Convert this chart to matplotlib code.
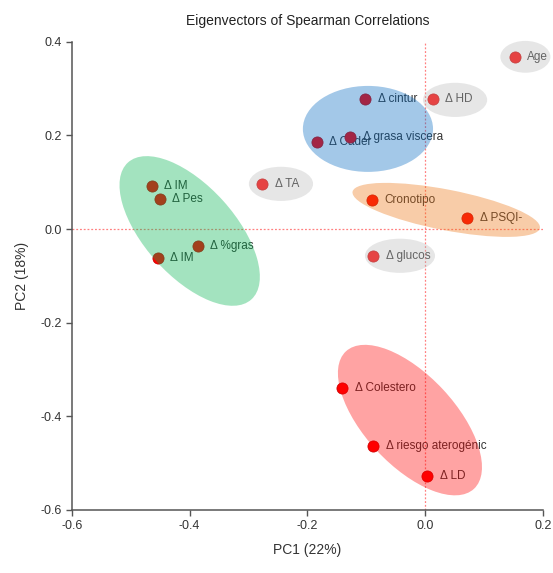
import matplotlib.pyplot as plt
from matplotlib.patches import Ellipse
from matplotlib import transforms

plt.rcParams['font.family'] = ['Liberation Sans', 'DejaVu Sans']
plt.rcParams['axes.unicode_minus'] = False

# loadings
labels = ['Age', 'Δ HD', 'Δ cintur', 'Δ grasa viscera', 'Δ Cader', 'Δ TA',
          'Cronotipo', 'Δ PSQI-', 'Δ glucos', 'Δ IM', 'Δ Pes', 'Δ %gras',
          'Δ IM', 'Δ Colestero', 'Δ riesgo aterogénic', 'Δ LD']
pc1 = [0.152, 0.013, -0.102, -0.127, -0.184, -0.277,
       -0.091, 0.071, -0.088, -0.464, -0.451, -0.386,
       -0.454, -0.141, -0.088, 0.003]
pc2 = [0.368, 0.278, 0.278, 0.197, 0.186, 0.096,
       0.062, 0.024, -0.057, 0.092, 0.065, -0.036,
       -0.062, -0.339, -0.463, -0.527]

# cluster shades: centre (data), width/height (in x units), angle, colour
groups = [
    ((0.170, 0.368), 0.085, 0.054, 0, '#bababa'),
    ((0.0506, 0.276), 0.109, 0.058, 0, '#bababa'),
    ((-0.245, 0.0966), 0.109, 0.058, 0, '#bababa'),
    ((-0.0429, -0.057), 0.119, 0.058, 0, '#bababa'),
    ((-0.0973, 0.214), 0.221, 0.146, 0, '#0067c0'),
    ((0.0356, 0.041), 0.324, 0.069, -11, '#ec720e'),
    ((-0.400, -0.004), 0.313, 0.153, -48, '#00b450'),
    ((-0.026, -0.408), 0.319, 0.153, -47, '#ff0000'),
]

fig = plt.figure(figsize=(5.53, 5.73), dpi=100)
ax = fig.add_axes([0.130, 0.110, 0.852, 0.817])
ax.set_xlim(-0.6, 0.2)
ax.set_ylim(-0.6, 0.4)

ax.axvline(0, color='#ff8080', ls=(0, (1.5, 1.5)), lw=0.9, zorder=1)
ax.axhline(0, color='#ff8080', ls=(0, (1.5, 1.5)), lw=0.9, zorder=1)

ax.plot(pc1, pc2, 'o', color='#ff0000', mec='#d00000', mew=0.6, ms=8, zorder=3)
for x, y, s in zip(pc1, pc2, labels):
    ax.annotate(s, (x, y), xytext=(9, 0), textcoords='offset points',
                va='center', ha='left', fontsize=8.5, color='#333333', zorder=2)

# ellipses drawn in an aspect-corrected frame so that angles look right
bbox = ax.get_position()
W = bbox.width * fig.get_figwidth()
H = bbox.height * fig.get_figheight()
k = (H / 1.0) / (W / 0.8)
tr = transforms.Affine2D().scale(1, 1 / k) + ax.transData
for (cx, cy), w, h, ang, col in groups:
    e = Ellipse((cx, cy * k), w, h, angle=ang, transform=tr,
                facecolor=col, edgecolor='none', alpha=0.36, zorder=4,
                clip_on=False)
    ax.add_patch(e)

for sp in ['top', 'right']:
    ax.spines[sp].set_visible(False)
for sp in ['left', 'bottom']:
    ax.spines[sp].set_color('#555555')
    ax.spines[sp].set_linewidth(1.1)
ax.set_xticks([-0.6, -0.4, -0.2, 0.0, 0.2])
ax.set_yticks([-0.6, -0.4, -0.2, 0.0, 0.2, 0.4])
ax.tick_params(direction='out', length=4, width=1, color='#555555',
               labelsize=9, labelcolor='#333333')
ax.set_xlabel('PC1 (22%)', fontsize=10, color='#333333', labelpad=8)
ax.set_ylabel('PC2 (18%)', fontsize=10, color='#333333', labelpad=8)
ax.set_title('Eigenvectors of Spearman Correlations', fontsize=10,
             color='#222222', pad=12)

fig.savefig('out.png', dpi=100)
